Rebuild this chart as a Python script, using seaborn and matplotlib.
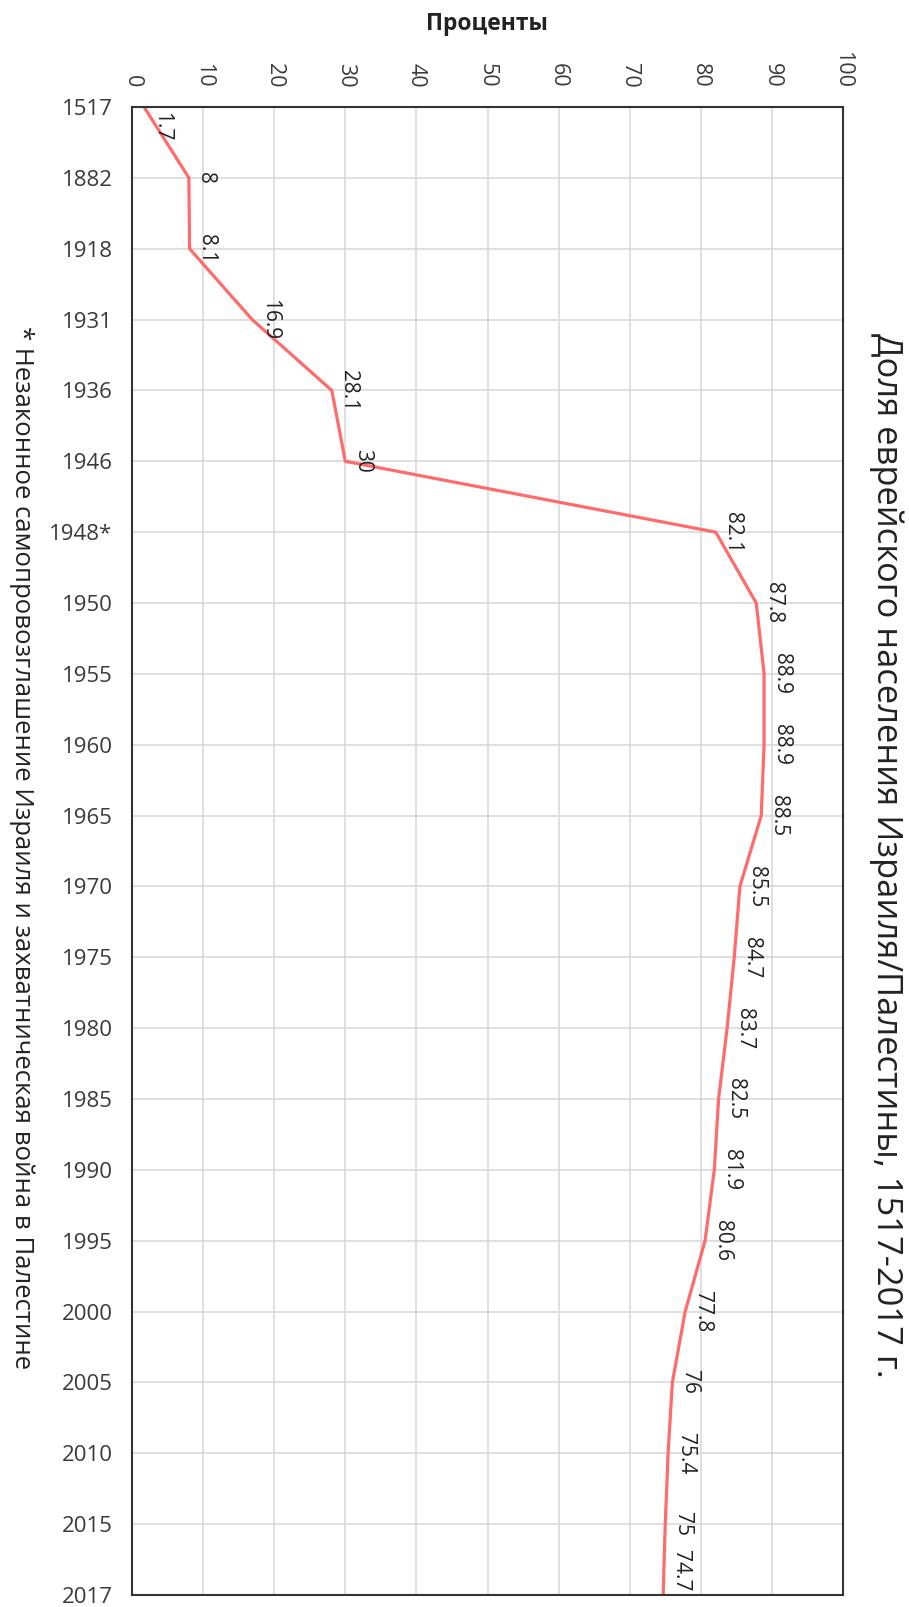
import pandas as pd
import numpy as np
import matplotlib
matplotlib.use("Agg")
import matplotlib.pyplot as plt
import seaborn as sns

# данные: доля еврейского населения, %
years = ["1517", "1882", "1918", "1931", "1936", "1946", "1948*", "1950", "1955", "1960",
         "1965", "1970", "1975", "1980", "1985", "1990", "1995", "2000", "2005", "2010",
         "2015", "2017"]
share = [1.7, 8, 8.1, 16.9, 28.1, 30, 82.1, 87.8, 88.9, 88.9,
         88.5, 85.5, 84.7, 83.7, 82.5, 81.9, 80.6, 77.8, 76, 75.4,
         75, 74.7]
pct_ticks = list(range(0, 101, 10))

title = "Доля еврейского населения Израиля/Палестины, 1517-2017 г."
note = "* Незаконное самопровозглашение Израиля и захватническая война в Палестине"

df = pd.DataFrame({"pos": np.arange(len(years)), "year": years, "share": share})

sns.set_style("whitegrid")
plt.rcParams["font.family"] = ["Open Sans", "DejaVu Sans"]

fig = plt.figure(figsize=(9.09, 16.07), dpi=100)
ax = fig.add_axes([132 / 909, 1 - 1595 / 1607, (843 - 132) / 909, (1595 - 107) / 1607])

sns.lineplot(data=df, x="share", y="pos", orient="y", sort=False,
             color="#ff6b6b", linewidth=2.3, ax=ax)

ax.set_xlim(0, 100)
ax.set_ylim(len(years) - 1, 0)
ax.xaxis.tick_top()
ax.set_xticks(pct_ticks)
ax.set_xticklabels([str(t) for t in pct_ticks], rotation=270, fontsize=15.5, color="#3a3a3a")
ax.set_yticks(df["pos"])
ax.set_yticklabels(years, fontsize=16, color="#3a3a3a")
ax.tick_params(axis="both", length=0)
ax.tick_params(axis="x", pad=14)
ax.tick_params(axis="y", pad=14)
ax.set_xlabel("")
ax.set_ylabel("")
ax.grid(True, color="#d6d6d6", linewidth=1.1)
for s in ax.spines.values():
    s.set_color("#333333")
    s.set_linewidth(1.5)

# подписи значений
for i, v in enumerate(share):
    va = "center"
    dy = 0
    if i == 0:
        va = "top"
        dy = -5
    elif i == len(share) - 1:
        va = "bottom"
        dy = 4
    ax.annotate(f"{v:g}", xy=(v, i), xytext=(17, dy), textcoords="offset pixels",
                rotation=270, ha="center", va=va, fontsize=15, color="#222222")

fig.text(487 / 909, 1 - 24 / 1607, "Проценты", ha="center", va="center",
         fontsize=16.5, fontweight="bold", color="#222222")
fig.text(886 / 909, 1 - 855 / 1607, title, rotation=270, ha="center", va="center",
         fontsize=24.8, color="#222222")
fig.text(22 / 909, 1 - 848 / 1607, note, rotation=270, ha="center", va="center",
         fontsize=18.5, color="#222222")

fig.savefig("out.png", dpi=100)
